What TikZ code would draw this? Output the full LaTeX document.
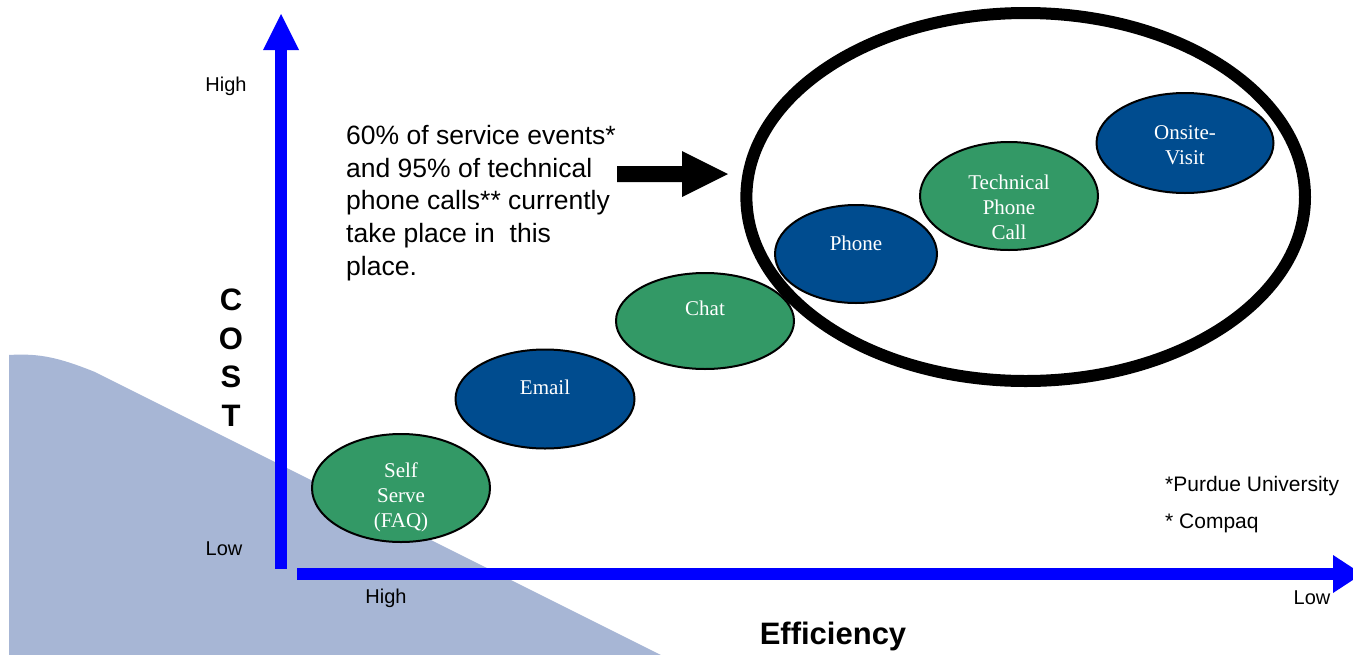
\documentclass[tikz,border=0pt]{standalone}
\usepackage{fontspec}
\setmainfont{Liberation Serif}
\setsansfont{Liberation Sans}
\usetikzlibrary{shapes.geometric}
\definecolor{chgreen}{RGB}{51,153,102}
\definecolor{chblue}{RGB}{0,76,143}
\definecolor{slopefill}{RGB}{167,182,213}
\definecolor{axisblue}{RGB}{0,0,255}
\begin{document}
\begin{tikzpicture}[x=1pt,y=-1pt,
  chan/.style={ellipse, draw=black, line width=2pt, inner sep=0pt,
               minimum width=178pt, minimum height=100pt},
  chantext/.style={text=white, inner sep=0pt, align=center,
               font=\fontsize{21}{25}\selectfont},
  axislabel/.style={inner sep=0pt, font=\sffamily\fontsize{20}{24}\selectfont},
  axistitle/.style={inner sep=0pt, align=center,
               font=\sffamily\bfseries\fontsize{31}{38.5}\selectfont},
  note/.style={inner sep=0pt, align=left, font=\sffamily\fontsize{26.5}{32.7}\selectfont},
  source/.style={inner sep=0pt, anchor=west, font=\sffamily\fontsize{21}{25}\selectfont}]

\useasboundingbox (0,0) rectangle (1353,654);
\clip (0,0) rectangle (1353,654);

% falling backdrop behind the low-cost corner
\fill[slopefill] (9,654) -- (9,355)
  .. controls (40,353) and (60,358) .. (95,372) -- (665,657) -- (665,660) -- (9,660) -- cycle;

% cost axis
\coordinate (ybot) at (281,569);
\coordinate (ytip) at (281,14);
\fill[axisblue] ([xshift=-6pt]ybot) rectangle (287,50);
\fill[axisblue] (263,50) -- (ytip) -- (299,50) -- cycle;

% efficiency axis
\coordinate (xbot) at (297,574);
\coordinate (xtip) at (1362,574);
\fill[axisblue] (297,568) rectangle (1334,580);
\fill[axisblue] (1333,555) -- (xtip) -- (1333,593) -- cycle;

% service channels
\node[chan, fill=chgreen, minimum height=108pt] (self) at (401,488) {};
\node[chan, fill=chblue, minimum width=179pt, minimum height=99pt] (email) at (545,399) {};
\node[chan, fill=chgreen, minimum height=96pt] (chat) at (705,321) {};
\node[chan, fill=chblue, minimum width=162pt, minimum height=98pt] (phone) at (856,254) {};
\node[chan, fill=chgreen, minimum height=108pt] (tech) at (1009,196) {};
\node[chan, fill=chblue, minimum width=177pt] (onsite) at (1185,143) {};

\node[chantext] (selft) at ([yshift=-9pt]self.center) {Self\\Serve\\(FAQ)};
\node[chantext] (emailt) at ([yshift=12pt]email.center) {Email};
\node[chantext] (chatt) at ([yshift=13pt]chat.center) {Chat};
\node[chantext] (phonet) at ([yshift=11pt]phone.center) {Phone};
\node[chantext] (techt) at ([yshift=-11pt]tech.center) {Technical\\Phone\\Call};
\node[chantext] (onsitet) at ([yshift=-2pt]onsite.center) {Onsite-\\Visit};

% ring round the costly channels
\coordinate (ringc) at (1025.7,197);
\draw[line width=12pt] (ringc) ellipse [x radius=279.3, y radius=184];

% remark and pointer
\node[note, anchor=north west] (remark) at (346,125)
  {60\% of service events*\\and 95\% of technical\\phone calls** currently\\take place in~ this\\place.};
\coordinate (ptr) at (617,174);
\fill ([yshift=8pt]ptr) -- (682,166) -- (682,151) -- (728,174) -- (682,197)
  -- (682,182) -- ([yshift=-8pt]ptr) -- cycle;

% axis labels
\node[axislabel] (ch) at (226,86) {High};
\node[axislabel] (cl) at (224,549) {Low};
\node[axislabel] (eh) at (386,598) {High};
\node[axislabel] (el) at (1312,598) {Low};
\node[axistitle] (cost) at (231,357.5) {C\\O\\S\\T};
\node[axistitle] (eff) at (833,636) {Efficiency};

% sources
\node[source] (src1) at (1165,486) {*Purdue University};
\node[source] (src2) at (1165,523) {* Compaq};
\end{tikzpicture}
\end{document}
